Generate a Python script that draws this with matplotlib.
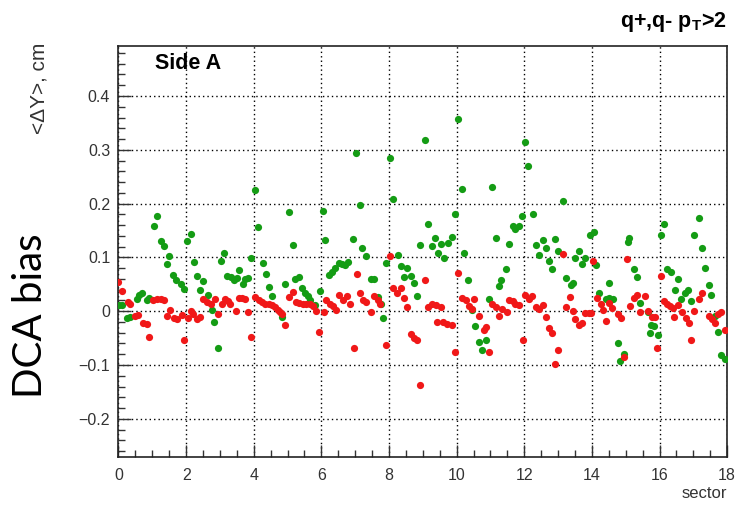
"""DCA bias per sector, Side A (q+, q- with pT > 2)."""

import matplotlib

matplotlib.use("Agg")
import matplotlib.pyplot as plt
from matplotlib.ticker import FuncFormatter, MultipleLocator

# green series: <dY> per sector bin
green_x = [
    0.02, 0.10, 0.24, 0.34, 0.54, 0.62, 0.70, 0.83, 0.91, 1.06, 1.14, 1.25,
    1.35, 1.43, 1.50, 1.62, 1.70, 1.85, 1.95, 2.03, 2.15, 2.23, 2.31, 2.41,
    2.51, 2.66, 2.76, 2.83, 2.93, 3.03, 3.11, 3.22, 3.33, 3.43, 3.51, 3.56,
    3.67, 3.75, 3.83, 3.93, 4.03, 4.13, 4.27, 4.36, 4.44, 4.54, 4.84, 4.92,
    5.04, 5.15, 5.23, 5.33, 5.43, 5.53, 5.61, 5.67, 5.82, 5.95, 6.04, 6.12,
    6.22, 6.31, 6.41, 6.51, 6.61, 6.71, 6.80, 6.93, 7.02, 7.13, 7.21, 7.33,
    7.46, 7.56, 7.66, 7.75, 7.82, 7.92, 8.02, 8.13, 8.26, 8.34, 8.44, 8.54,
    8.64, 8.74, 8.82, 8.92, 9.06, 9.15, 9.26, 9.35, 9.45, 9.53, 9.63, 9.74,
    9.87, 9.95, 10.05, 10.15, 10.23, 10.33, 10.46, 10.53, 10.65, 10.76, 10.86,
    10.96, 11.04, 11.15, 11.25, 11.32, 11.46, 11.56, 11.66, 11.74, 11.83,
    11.93, 12.03, 12.12, 12.26, 12.36, 12.44, 12.54, 12.63, 12.73, 12.83,
    12.91, 13.00, 13.14, 13.22, 13.37, 13.43, 13.51, 13.63, 13.71, 13.80,
    13.95, 14.07, 14.13, 14.22, 14.41, 14.50, 14.52, 14.62, 14.77, 14.84,
    14.94, 15.06, 15.11, 15.23, 15.33, 15.41, 15.66, 15.73, 15.75, 15.85,
    15.95, 16.03, 16.13, 16.22, 16.34, 16.46, 16.54, 16.64, 16.74, 16.84,
    16.94, 17.01, 17.16, 17.26, 17.33, 17.45, 17.53, 17.63, 17.73, 17.82,
    17.95,
]
green_y = [
    0.011, 0.011, -0.013, -0.010, 0.023, 0.030, 0.033, 0.021, 0.024, 0.159,
    0.177, 0.130, 0.121, 0.088, 0.102, 0.067, 0.058, 0.050, 0.041, 0.130,
    0.144, 0.092, 0.065, 0.039, 0.056, 0.030, 0.002, -0.020, -0.068, 0.093,
    0.109, 0.065, 0.064, 0.058, 0.062, 0.076, 0.051, 0.059, 0.062, 0.098,
    0.225, 0.156, 0.090, 0.069, 0.045, 0.028, -0.011, 0.050, 0.184, 0.123,
    0.060, 0.064, 0.043, 0.034, 0.028, 0.021, 0.011, 0.038, 0.186, 0.133,
    0.067, 0.073, 0.080, 0.090, 0.088, 0.086, 0.092, 0.135, 0.294, 0.198,
    0.118, 0.103, 0.060, 0.060, 0.027, 0.014, -0.012, 0.089, 0.284, 0.209,
    0.105, 0.084, 0.064, 0.081, 0.066, 0.052, 0.028, 0.123, 0.318, 0.162,
    0.121, 0.136, 0.108, 0.124, 0.099, 0.127, 0.138, 0.180, 0.358, 0.227,
    0.108, 0.058, 0.002, -0.027, -0.058, -0.073, -0.054, 0.022, 0.230, 0.136,
    0.047, 0.058, 0.079, 0.124, 0.159, 0.152, 0.159, 0.177, 0.314, 0.269,
    0.180, 0.123, 0.105, 0.133, 0.118, 0.093, 0.078, 0.135, 0.111, 0.204,
    0.061, 0.049, 0.053, 0.099, 0.111, 0.088, 0.099, 0.141, 0.147, 0.086,
    0.034, 0.023, 0.025, 0.053, 0.022, -0.059, -0.093, -0.080, 0.129, 0.136,
    0.078, 0.063, 0.015, -0.002, -0.041, -0.025, -0.027, -0.044, 0.142,
    0.162, 0.079, 0.073, 0.039, 0.059, 0.023, 0.034, 0.039, 0.019, 0.142,
    0.173, 0.117, 0.081, 0.048, 0.031, -0.008, -0.038, -0.081, -0.088,
]

# red series
red_x = [
    0.00, 0.10, 0.27, 0.34, 0.49, 0.59, 0.73, 0.83, 0.91, 1.03, 1.15, 1.25,
    1.35, 1.44, 1.53, 1.65, 1.72, 1.87, 1.94, 2.05, 2.15, 2.21, 2.32, 2.41,
    2.51, 2.61, 2.73, 2.84, 2.93, 3.05, 3.15, 3.25, 3.30, 3.47, 3.55, 3.66,
    3.75, 3.83, 3.92, 4.05, 4.15, 4.25, 4.34, 4.44, 4.54, 4.63, 4.71, 4.79,
    4.84, 4.92, 5.03, 5.15, 5.25, 5.35, 5.45, 5.55, 5.65, 5.74, 5.84, 5.94,
    6.07, 6.14, 6.24, 6.33, 6.43, 6.53, 6.63, 6.76, 6.86, 6.96, 7.04, 7.13,
    7.23, 7.33, 7.46, 7.56, 7.66, 7.72, 7.92, 8.02, 8.12, 8.25, 8.34, 8.44,
    8.54, 8.64, 8.74, 8.82, 8.92, 9.05, 9.16, 9.28, 9.38, 9.43, 9.53, 9.60,
    9.72, 9.87, 9.94, 10.04, 10.17, 10.27, 10.36, 10.46, 10.51, 10.66, 10.80,
    10.88, 10.96, 11.05, 11.15, 11.25, 11.35, 11.48, 11.56, 11.66, 11.74,
    11.83, 11.95, 12.03, 12.13, 12.24, 12.34, 12.44, 12.54, 12.63, 12.73,
    12.81, 12.91, 13.00, 13.14, 13.24, 13.34, 13.43, 13.51, 13.63, 13.71,
    13.80, 13.90, 13.98, 14.02, 14.15, 14.28, 14.34, 14.42, 14.52, 14.60,
    14.77, 14.87, 14.95, 15.04, 15.14, 15.24, 15.34, 15.43, 15.57, 15.66,
    15.78, 15.88, 15.93, 16.03, 16.13, 16.22, 16.30, 16.39, 16.44, 16.54,
    16.67, 16.77, 16.87, 16.94, 17.03, 17.16, 17.26, 17.46, 17.56, 17.63,
    17.72, 17.82, 17.95,
]
red_y = [
    0.054, 0.038, 0.018, 0.014, -0.009, -0.007, -0.021, -0.024, -0.047, 0.020,
    0.023, 0.022, 0.020, -0.009, 0.003, -0.012, -0.015, -0.007, -0.053,
    -0.012, 0.001, -0.006, -0.014, -0.010, 0.022, 0.018, 0.013, 0.022,
    -0.006, 0.014, 0.022, 0.019, 0.014, 0.001, 0.025, 0.025, 0.023, -0.002,
    -0.047, 0.026, 0.021, 0.017, 0.014, 0.013, 0.011, 0.008, 0.003, -0.002,
    -0.005, -0.026, 0.026, 0.036, 0.017, 0.015, 0.014, 0.014, 0.014, 0.009,
    0.001, -0.039, -0.002, 0.021, 0.014, 0.009, 0.003, 0.031, 0.021, 0.028,
    0.014, -0.068, 0.070, 0.033, 0.021, 0.018, -0.001, 0.028, 0.021, 0.014,
    -0.063, 0.103, 0.043, 0.034, 0.043, 0.025, 0.007, -0.043, -0.049, -0.054,
    -0.137, 0.058, 0.008, 0.013, 0.011, -0.020, 0.007, -0.020, -0.023,
    -0.026, -0.076, 0.071, 0.024, 0.021, 0.009, 0.005, 0.022, -0.008, -0.034,
    -0.029, -0.076, 0.014, 0.008, -0.008, 0.005, -0.001, 0.021, 0.019, 0.014,
    0.011, -0.054, 0.030, 0.022, 0.029, 0.007, 0.005, 0.011, -0.011, -0.031,
    -0.040, -0.098, -0.073, 0.107, 0.007, 0.026, 0.000, -0.014, -0.026,
    -0.022, -0.004, -0.004, -0.004, 0.094, 0.024, 0.014, 0.003, -0.018,
    0.015, 0.006, -0.005, -0.013, -0.085, 0.097, 0.009, 0.025, 0.031, -0.002,
    0.028, 0.001, -0.011, -0.010, -0.068, 0.066, 0.019, 0.014, 0.009, 0.006,
    -0.011, 0.012, -0.002, -0.013, -0.021, -0.054, 0.001, 0.022, 0.034,
    -0.008, -0.014, -0.021, -0.006, -0.002, -0.035,
]

X_MAJOR = 2
X_MINOR = 0.5
Y_MAJOR = 0.1
Y_MINOR = 0.02
X_LIMITS = (0, 18)
Y_LIMITS = (-0.271, 0.493)

GREEN = "#149c14"
RED = "#f01818"
MARKER_SIZE = 5.2

plt.rcParams["font.family"] = ["Liberation Sans", "DejaVu Sans"]
plt.rcParams["mathtext.fontset"] = "custom"
plt.rcParams["mathtext.rm"] = "Liberation Sans"
plt.rcParams["mathtext.bf"] = "Liberation Sans:bold"

fig = plt.figure(figsize=(7.36, 5.05), dpi=100)
ax = fig.add_axes([0.161, 0.095, 0.827, 0.814])

ax.plot(green_x, green_y, "o", color=GREEN, markersize=MARKER_SIZE,
        markeredgewidth=0, zorder=3)
ax.plot(red_x, red_y, "o", color=RED, markersize=MARKER_SIZE,
        markeredgewidth=0, zorder=4)

ax.set_xlim(*X_LIMITS)
ax.set_ylim(*Y_LIMITS)
ax.xaxis.set_major_locator(MultipleLocator(X_MAJOR))
ax.xaxis.set_minor_locator(MultipleLocator(X_MINOR))
ax.yaxis.set_major_locator(MultipleLocator(Y_MAJOR))
ax.yaxis.set_minor_locator(MultipleLocator(Y_MINOR))
ax.yaxis.set_major_formatter(
    FuncFormatter(lambda v, _: f"{round(v, 2):g}".replace("-", "\u2212"))
)
ax.xaxis.set_major_formatter(FuncFormatter(lambda v, _: f"{v:g}"))

ax.tick_params(which="both", direction="in", top=False, right=False,
               labelsize=11.5, colors="#333333", labelcolor="#333333")
ax.tick_params(axis="x", which="major", length=9, width=1.0, pad=8)
ax.tick_params(axis="x", which="minor", length=5, width=1.0)
ax.tick_params(axis="y", which="major", length=9, width=1.0, pad=6)
ax.tick_params(axis="y", which="minor", length=5, width=1.0)

ax.grid(True, which="major", color="black", linestyle=(0, (1, 2.2)),
        linewidth=1.0)
for spine in ax.spines.values():
    spine.set_linewidth(1.2)
    spine.set_color("#222222")

ax.text(0.06, 0.957, "Side A", transform=ax.transAxes, fontsize=15.5,
        fontweight="bold", ha="left", va="center")

fig.text(0.988, 0.947, r"q+,q- p$_\mathbf{T}$>2", fontsize=15.5,
         fontweight="bold", ha="right", va="baseline")
fig.text(0.988, 0.022, "sector", fontsize=12, ha="right", va="center",
         color="#333333")
fig.text(0.053, 0.915, "<\u0394Y>, cm", fontsize=15, rotation=90,
         ha="center", va="top", color="#333333")
fig.text(0.042, 0.375, "DCA bias", fontsize=29, rotation=90,
         ha="center", va="center", family=["Lato", "DejaVu Sans"])

fig.savefig("out.png", dpi=100)
